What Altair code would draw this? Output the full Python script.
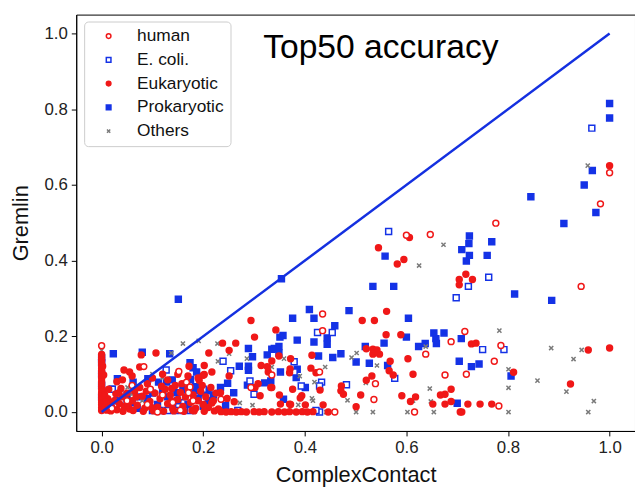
import altair as alt
import pandas as pd

# ---------------- data ----------------
groups = ["human", "E. coli.", "Eukaryotic", "Prokaryotic", "Others"]

human_x = [0.0, 0.083, 0.152, 0.167, 0.174, 0.096, 0.171, 0.235, 0.294, 0.335, 0.429, 0.435, 0.435,
           0.539, 0.536, 0.6, 0.647, 0.638, 0.676, 0.688, 0.715, 0.718, 0.773, 0.786, 0.782, 0.776,
           0.944, 0.982, 1.0, 0.459, 0.616, 0.05, 0.09, 0.12, 0.06, 0.02, 0.14, 0.18, 0.11, 0.155]
human_y = [0.175, 0.12, 0.107, 0.079, 0.066, 0.06, 0.051, 0.034, 0.065, 0.098, 0.106, 0.259, 0.215,
           0.075, 0.033, 0.467, 0.469, 0.153, 0.098, 0.186, 0.213, 0.1, 0.134, 0.176, 0.016, 0.499,
           0.332, 0.55, 0.632, 0.0, 0.0, 0.03, 0.02, 0.045, 0.07, 0.01, 0.025, 0.03, 0.0, 0.005]

ecoli_x = [0.127, 0.239, 0.254, 0.292, 0.3, 0.379, 0.379, 0.425, 0.454, 0.433, 0.429, 0.393, 0.482,
           0.577, 0.565, 0.698, 0.722, 0.762, 0.75, 0.792, 0.965, 0.429, 0.1, 0.115, 0.13, 0.145,
           0.16, 0.175, 0.268, 0.422, 0.021, 0.05, 0.16, 0.2]
ecoli_y = [0.111, 0.134, 0.109, 0.082, 0.047, 0.133, 0.106, 0.21, 0.21, 0.079, 0.069, 0.069, 0.072,
           0.089, 0.477, 0.302, 0.332, 0.356, 0.165, 0.165, 0.75, 0.0, 0.004, 0.004, 0.004, 0.004,
           0.004, 0.004, 0.004, 0.004, 0.06, 0.03, 0.04, 0.06]

euk_x = [1.0, 0.958, 1.0, 0.923, 0.728, 0.737, 0.811, 0.721, 0.745, 0.768, 0.706, 0.717, 0.704, 0.73,
         0.704, 0.606, 0.545, 0.595, 0.582, 0.561, 0.513, 0.537, 0.343, 0.56, 0.589, 0.521, 0.534,
         0.542, 0.534, 0.547, 0.349, 0.414, 0.568, 0.603, 0.372, 0.335, 0.371, 0.412, 0.328, 0.37,
         0.422, 0.566, 0.574, 0.532, 0.613, 0.521, 0.472, 0.335, 0.376, 0.43, 0.471, 0.476, 0.51,
         0.35, 0.394, 0.391, 0.688, 0.667, 0.676, 0.591, 0.618, 0.608, 0.688, 0.652, 0.676, 0.501,
         0.37, 0.401, 0.436,
         0.235, 0.245, 0.255, 0.265, 0.275, 0.285, 0.3, 0.31, 0.32, 0.335, 0.348, 0.36, 0.37, 0.383,
         0.395, 0.405, 0.416, 0.446, 0.709,
         0.294, 0.301, 0.238, 0.264, 0.251, 0.211, 0.314, 0.326, 0.217, 0.251, 0.202, 0.302, 0.308,
         0.333, 0.234, 0.247, 0.312, 0.261, 0.217, 0.352, 0.372,
         0.078, 0.107, 0.044, 0.055, 0.075, 0.172, 0.2, 0.202, 0.041, 0.192, 0.034, 0.138,
         0.0, 0.0, 0.0, 0.0, 0.0, 0.0, 0.0, 0.0, 0.0, 0.0, 0.0, 0.0, 0.0, 0.0, 0.0, 0.0, 0.0, 0.0,
         0.0, 0.0, 0.0, 0.0, 0.003, 0.003, 0.004, 0.002,
         0.01, 0.015, 0.02, 0.025, 0.03, 0.035, 0.04, 0.045, 0.05, 0.055, 0.06, 0.065, 0.07, 0.075,
         0.08, 0.085, 0.09, 0.095, 0.1, 0.105, 0.11, 0.115, 0.12, 0.125, 0.13, 0.135, 0.14, 0.145,
         0.15, 0.155, 0.16, 0.165, 0.17, 0.175, 0.18, 0.185, 0.19, 0.195, 0.2, 0.205, 0.21, 0.215,
         0.22, 0.225, 0.23, 0.012, 0.028, 0.038, 0.052, 0.068, 0.088, 0.098, 0.118, 0.138, 0.158,
         0.178, 0.198, 0.018, 0.042, 0.062, 0.082, 0.102, 0.122, 0.142, 0.162, 0.182, 0.202, 0.222,
         0.008, 0.006, 0.014, 0.03, 0.06, 0.13, 0.15, 0.19, 0.17]
euk_y = [0.651, 0.164, 0.169, 0.074, 0.18, 0.182, 0.105, 0.021, 0.021, 0.021, 0.0, 0.364, 0.35, 0.35,
         0.336, 0.461, 0.434, 0.403, 0.391, 0.266, 0.242, 0.242, 0.217, 0.204, 0.204, 0.167, 0.166,
         0.164, 0.153, 0.153, 0.148, 0.15, 0.134, 0.141, 0.141, 0.135, 0.114, 0.116, 0.106, 0.104,
         0.104, 0.109, 0.098, 0.095, 0.1, 0.084, 0.069, 0.065, 0.06, 0.058, 0.056, 0.047, 0.045,
         0.045, 0.043, 0.037, 0.06, 0.045, 0.047, 0.043, 0.04, 0.028, 0.028, 0.021, 0.021, 0.014,
         0.021, 0.019, 0.019,
         0.001, 0.0, 0.001, 0.0, 0.001, 0.0, 0.001, 0.0, 0.001, 0.0, 0.001, 0.0, 0.001, 0.0,
         0.001, 0.0, 0.001, 0.0, 0.0,
         0.242, 0.198, 0.182, 0.182, 0.163, 0.156, 0.123, 0.12, 0.106, 0.095, 0.099, 0.065, 0.075,
         0.065, 0.051, 0.036, 0.043, 0.027, 0.024, 0.021, 0.02,
         0.151, 0.156, 0.111, 0.106, 0.119, 0.121, 0.097, 0.123, 0.085, 0.084, 0.051, 0.062,
         0.004, 0.011, 0.019, 0.026, 0.031, 0.039, 0.046, 0.052, 0.061, 0.067, 0.074, 0.081, 0.089,
         0.094, 0.102, 0.109, 0.116, 0.124, 0.131, 0.138, 0.145, 0.152, 0.014, 0.057, 0.098, 0.121,
         0.005, 0.02, 0.012, 0.03, 0.006, 0.022, 0.04, 0.015, 0.05, 0.008, 0.03, 0.055, 0.018, 0.065,
         0.042, 0.01, 0.075, 0.028, 0.09, 0.05, 0.013, 0.035, 0.1, 0.06, 0.022, 0.045, 0.008, 0.07,
         0.033, 0.052, 0.015, 0.04, 0.062, 0.025, 0.045, 0.01, 0.03, 0.055, 0.02, 0.04, 0.012, 0.065,
         0.03, 0.05, 0.008, 0.035, 0.048, 0.062, 0.02, 0.04, 0.055, 0.012, 0.068, 0.03, 0.075,
         0.005, 0.07, 0.003, 0.002, 0.004, 0.002, 0.003, 0.002, 0.003, 0.002, 0.003, 0.002, 0.003,
         0.025, 0.045, 0.06, 0.08, 0.095, 0.085, 0.1, 0.09, 0.095]

prok_x = [1.0, 1.0, 0.966, 0.95, 0.845, 0.973, 0.91, 0.724, 0.723, 0.768, 0.709, 0.724, 0.759, 0.718,
          0.558, 0.534, 0.575, 0.813, 0.886, 0.354, 0.409, 0.487, 0.376, 0.418, 0.604, 0.459, 0.351,
          0.357, 0.444, 0.385, 0.418, 0.444, 0.6, 0.654, 0.674, 0.658, 0.659, 0.708, 0.556, 0.624,
          0.637, 0.519, 0.335, 0.34, 0.349, 0.349, 0.326, 0.427, 0.471, 0.455, 0.501, 0.527, 0.563,
          0.385, 0.352, 0.383, 0.333, 0.401, 0.358, 0.704, 0.728, 0.743, 0.806, 0.7, 0.151, 0.289,
          0.297, 0.271, 0.289, 0.289, 0.321, 0.287, 0.234, 0.248, 0.26, 0.244, 0.023, 0.08, 0.134,
          0.174, 0.18, 0.187, 0.031, 0.062, 0.091, 0.112, 0.128, 0.139, 0.175, 0.185, 0.021, 0.148,
          0.184, 0.196, 0.209, 0.0, 0.0, 0.0, 0.03, 0.06, 0.09, 0.11, 0.13, 0.15, 0.17, 0.19, 0.21,
          0.22, 0.05, 0.07, 0.14, 0.12, 0.16, 0.1, 0.0, 0.0, 0.2, 0.075]
prok_y = [0.815, 0.777, 0.638, 0.6, 0.569, 0.527, 0.498, 0.465, 0.445, 0.45, 0.429, 0.414, 0.414,
          0.399, 0.412, 0.332, 0.332, 0.312, 0.295, 0.352, 0.271, 0.268, 0.248, 0.248, 0.248, 0.228,
          0.198, 0.202, 0.196, 0.19, 0.185, 0.179, 0.198, 0.209, 0.209, 0.194, 0.181, 0.194, 0.182,
          0.173, 0.181, 0.173, 0.166, 0.168, 0.173, 0.156, 0.151, 0.148, 0.154, 0.144, 0.132, 0.129,
          0.123, 0.113, 0.106, 0.091, 0.082, 0.065, 0.034, 0.134, 0.12, 0.127, 0.095, 0.023, 0.298,
          0.168, 0.146, 0.121, 0.121, 0.11, 0.077, 0.071, 0.065, 0.076, 0.051, 0.018, 0.154, 0.158,
          0.154, 0.13, 0.117, 0.106, 0.088, 0.079, 0.088, 0.079, 0.079, 0.085, 0.086, 0.067, 0.06,
          0.051, 0.056, 0.051, 0.056, 0.143, 0.13, 0.1, 0.03, 0.025, 0.035, 0.02, 0.04, 0.03, 0.02,
          0.035, 0.03, 0.045, 0.045, 0.01, 0.012, 0.055, 0.06, 0.05, 0.07, 0.04, 0.015, 0.04]

oth_x = [0.957, 0.783, 0.885, 0.945, 0.929, 0.801, 0.858, 0.801, 0.915, 0.969, 0.801, 0.958, 0.673,
         0.625, 0.638, 0.502, 0.492, 0.542, 0.359, 0.335, 0.44, 0.39, 0.52, 0.419, 0.646, 0.613,
         0.648, 0.484, 0.416, 0.387, 0.0, 0.16, 0.191, 0.137, 0.228, 0.251, 0.229, 0.286, 0.051,
         0.06, 0.197, 0.272, 0.297, 0.414, 0.388, 0.442, 0.501, 0.534, 0.602, 0.654, 0.08, 0.12,
         0.1, 0.15]
oth_y = [0.651, 0.215, 0.169, 0.164, 0.14, 0.113, 0.083, 0.064, 0.054, 0.029, 0.0, 0.0, 0.442,
         0.387, 0.173, 0.156, 0.144, 0.123, 0.141, 0.119, 0.119, 0.095, 0.077, 0.079, 0.062, 0.03,
         0.028, 0.031, 0.03, 0.019, 0.163, 0.181, 0.188, 0.156, 0.181, 0.154, 0.134, 0.141, 0.065,
         0.047, 0.071, 0.024, 0.018, 0.036, 0.0, 0.0, 0.0, 0.0, 0.0, 0.0, 0.03, 0.09, 0.1, 0.1]

diag_x = [0.0, 1.0]
diag_y = [0.0, 1.0]

tick_values = [0.0, 0.2, 0.4, 0.6, 0.8, 1.0]

# ---------------- build table (draw order: Prokaryotic, E. coli., Others, Eukaryotic, human) ----
parts = [("Prokaryotic", prok_x, prok_y), ("E. coli.", ecoli_x, ecoli_y), ("Others", oth_x, oth_y),
         ("Eukaryotic", euk_x, euk_y), ("human", human_x, human_y)]
rows = []
order = 0
for g, xs, ys in parts:
    for x, y in zip(xs, ys):
        rows.append({"group": g, "cc": x, "gremlin": y, "o": order})
        order += 1
df = pd.DataFrame(rows)
diag = pd.DataFrame({"cc": diag_x, "gremlin": diag_y})

RED = "#f01818"
BLUE = "#1432e6"
GRAY = "#7a7a7a"
XPATH = "M-0.7,-0.7L0.7,0.7M-0.7,0.7L0.7,-0.7"

xscale = alt.Scale(domain=[-0.05, 1.05], nice=False, zero=False)
yscale = alt.Scale(domain=[-0.05, 1.05], nice=False, zero=False)

xaxis = alt.Axis(values=tick_values, format=".1f", title="ComplexContact", grid=False,
                 labelFontSize=17, titleFontSize=22, tickSize=5, labelPadding=4,
                 titlePadding=9, domainColor="black", tickColor="black",
                 labelColor="#222222", titleColor="#111111", titleFontWeight="normal")
yaxis = alt.Axis(values=tick_values, format=".1f", title="Gremlin", grid=False,
                 labelFontSize=17, titleFontSize=22, tickSize=5, labelPadding=4,
                 titlePadding=12, domainColor="black", tickColor="black",
                 labelColor="#222222", titleColor="#111111", titleFontWeight="normal")

legend = alt.Legend(title=None, orient="none", legendX=8, legendY=7, labelFontSize=17.5,
                    labelColor="#111111", symbolSize=22, symbolStrokeWidth=1.5,
                    rowPadding=5, labelOffset=20, padding=6, symbolOffset=10,
                    fillColor="white", strokeColor="#cccccc", cornerRadius=4)

points = alt.Chart(df).mark_point(filled=False, strokeWidth=1.5, opacity=1, size=36).encode(
    x=alt.X("cc:Q", scale=xscale, axis=xaxis),
    y=alt.Y("gremlin:Q", scale=yscale, axis=yaxis),
    shape=alt.Shape("group:N", scale=alt.Scale(domain=groups,
                    range=["circle", "square", "circle", "square", XPATH]), legend=legend),
    fill=alt.Fill("group:N", scale=alt.Scale(domain=groups,
                  range=["white", "white", RED, BLUE, GRAY]), legend=legend),
    stroke=alt.Stroke("group:N", scale=alt.Scale(domain=groups,
                      range=[RED, BLUE, RED, BLUE, GRAY]), legend=legend),
    order=alt.Order("o:Q"),
)

line = alt.Chart(diag).mark_line(color="#1430e0", strokeWidth=2.5).encode(
    x=alt.X("cc:Q", scale=xscale),
    y=alt.Y("gremlin:Q", scale=yscale),
)

title = alt.Chart(pd.DataFrame({"t": ["Top50 accuracy"]})).mark_text(
    fontSize=34, font="Liberation Sans", color="black", align="center", baseline="middle"
).encode(x=alt.value(308), y=alt.value(34), text="t:N")

chart = alt.layer(points, line, title).properties(
    width=565, height=421,
    autosize=alt.AutoSizeParams(type="none"),
    padding={"left": 69, "top": 4, "right": 0, "bottom": 56},
).configure(font="Liberation Sans").configure_view(
    stroke="black", strokeWidth=1
)

chart.save("out.html", embed_options={"renderer": "svg", "actions": False})
